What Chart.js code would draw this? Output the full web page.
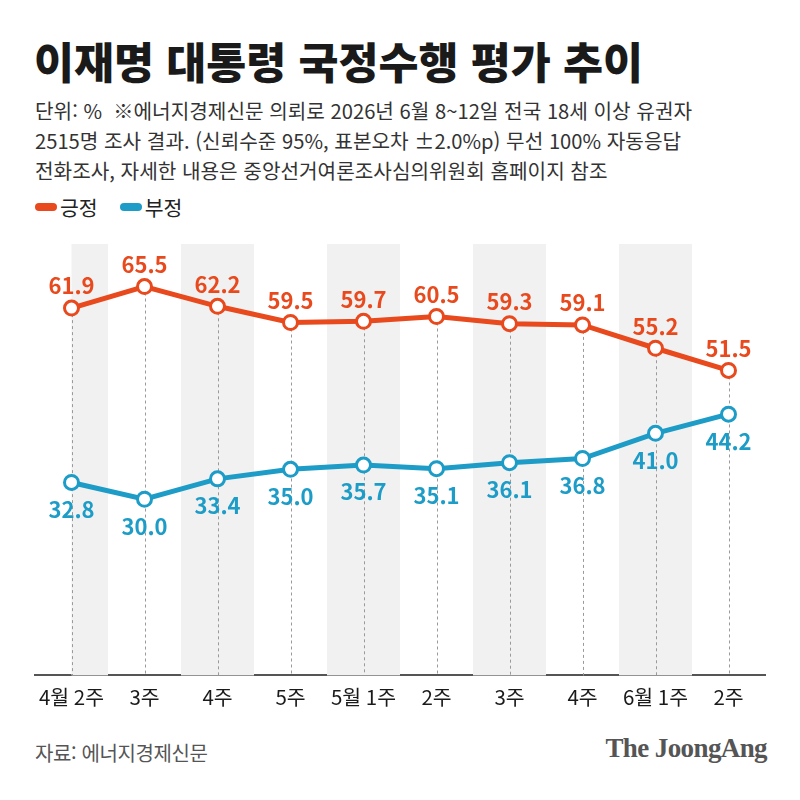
<!DOCTYPE html>
<html lang="ko">
<head>
<meta charset="utf-8">
<script src="https://cdn.jsdelivr.net/npm/chart.js@4"></script>
<style>
  html, body { margin: 0; padding: 0; background: #fff; }
  body { width: 800px; height: 800px; position: relative; overflow: hidden; font-family: "Noto Sans CJK KR", sans-serif; }
  #title { position: absolute; left: 34px; top: 29px; font-size: 43.5px; font-weight: 900; color: #1a1a1a; letter-spacing: 0; }
  #sub { position: absolute; left: 35px; top: 96px; font-size: 20.2px; line-height: 30px; color: #333; letter-spacing: 0; }
  #legend { position: absolute; left: 35px; top: 192px; font-size: 20.5px; color: #222; display: flex; gap: 22px; }
  #legend span { display: flex; align-items: center; }
  #legend i { display: inline-block; width: 22px; height: 8px; border-radius: 4px; margin-right: 3px; }
  #source { position: absolute; left: 35px; top: 738px; font-size: 20px; color: #555; letter-spacing: -0.4px; }
  #brand { position: absolute; right: 33px; top: 733px; font-family: "Liberation Serif", "DejaVu Serif", serif; font-weight: bold; font-size: 27px; color: #555; letter-spacing: -0.6px; }
  canvas { position: absolute; left: 0; top: 0; }
</style>
</head>
<body>
<div id="title">이재명 대통령 국정수행 평가 추이</div>
<div id="sub">단위: %&nbsp;&nbsp;※에너지경제신문 의뢰로 2026년 6월 8~12일 전국 18세 이상 유권자<br>2515명 조사 결과. (신뢰수준 95%, 표본오차 ±2.0%p) 무선 100% 자동응답<br>전화조사, 자세한 내용은 중앙선거여론조사심의위원회 홈페이지 참조</div>
<div id="legend"><span><i style="background:#e8491d"></i>긍정</span><span><i style="background:#1c9cc6"></i>부정</span></div>
<div id="source">자료: 에너지경제신문</div>
<div id="brand">The JoongAng</div>
<canvas id="chart" width="800" height="800"></canvas>
<script>
const weeks = ['4월 2주', '3주', '4주', '5주', '5월 1주', '2주', '3주', '4주', '6월 1주', '2주'];
const positive = [61.9, 65.5, 62.2, 59.5, 59.7, 60.5, 59.3, 59.1, 55.2, 51.5];
const negative = [32.8, 30.0, 33.4, 35.0, 35.7, 35.1, 36.1, 36.8, 41.0, 44.2];

const ORANGE = '#e8491d';
const BLUE = '#1c9cc6';

// gray bands on every other week + dashed guide lines
const backdrop = {
  id: 'backdrop',
  beforeDatasetsDraw(chart) {
    const { ctx, chartArea, scales: { x } } = chart;
    const half = (x.getPixelForValue(1) - x.getPixelForValue(0)) / 2;
    const x0 = x.getPixelForValue(0);
    ctx.save();
    ctx.fillStyle = '#f1f1f1';
    for (let i = 0; i < weeks.length; i += 2) {
      const c = x.getPixelForValue(i);
      const left = Math.max(c - half, x0);
      ctx.fillRect(left, chartArea.top, c + half - left, chartArea.bottom - chartArea.top);
    }
    const top = chart.getDatasetMeta(0).data;
    ctx.strokeStyle = '#9a9a9a';
    ctx.lineWidth = 1;
    ctx.setLineDash([3, 3]);
    top.forEach(pt => {
      ctx.beginPath();
      ctx.moveTo(Math.round(pt.x) + 0.5, pt.y);
      ctx.lineTo(Math.round(pt.x) + 0.5, chartArea.bottom);
      ctx.stroke();
    });
    ctx.restore();
  }
};

// value labels above (긍정) and below (부정)
const valueLabels = {
  id: 'valueLabels',
  afterDatasetsDraw(chart) {
    const { ctx } = chart;
    ctx.save();
    ctx.font = 'bold 22px "Noto Sans CJK KR", sans-serif';
    ctx.textAlign = 'center';
    ctx.textBaseline = 'middle';
    chart.data.datasets.forEach((ds, di) => {
      const meta = chart.getDatasetMeta(di);
      ctx.fillStyle = ds.borderColor;
      meta.data.forEach((pt, i) => {
        const dy = di === 0 ? -22 : 27;
        ctx.fillText(ds.data[i].toFixed(1), pt.x, pt.y + dy);
      });
    });
    ctx.restore();
  }
};

new Chart(document.getElementById('chart'), {
  type: 'line',
  data: {
    labels: weeks,
    datasets: [
      { label: '긍정', data: positive, borderColor: ORANGE, backgroundColor: '#fff', borderWidth: 5,
        pointRadius: 7, pointBorderWidth: 3, pointBackgroundColor: '#fff', pointBorderColor: ORANGE, clip: false },
      { label: '부정', data: negative, borderColor: BLUE, backgroundColor: '#fff', borderWidth: 5,
        pointRadius: 7, pointBorderWidth: 3, pointBackgroundColor: '#fff', pointBorderColor: BLUE, clip: false }
    ]
  },
  options: {
    responsive: false,
    animation: false,
    layout: { padding: { top: 244, left: 35, right: 35, bottom: 80 } },
    plugins: { legend: { display: false }, tooltip: { enabled: false } },
    scales: {
      x: {
        offset: true,
        grid: { display: false, drawTicks: false },
        border: { display: true, color: '#555', width: 2 },
        ticks: { color: '#1a1a1a', padding: 10, maxRotation: 0, font: { size: 20.5, family: '"Noto Sans CJK KR", sans-serif' } }
      },
      y: { display: false, min: 0.6, max: 72.6 }
    }
  },
  plugins: [backdrop, valueLabels]
});
</script>
</body>
</html>
